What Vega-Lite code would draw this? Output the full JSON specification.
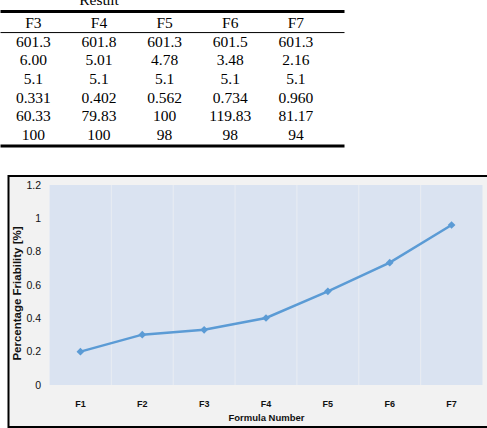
{
  "$schema": "https://vega.github.io/schema/vega-lite/v6.json",
  "padding": {"top": -8, "left": -1.5, "right": 0, "bottom": 0},
  "background": "white",
  "spacing": 27,
  "datasets": {
    "formulas": [
      {"formula": "F1", "n": 1, "friability": 0.2},
      {"formula": "F2", "n": 2, "friability": 0.302},
      {"formula": "F3", "n": 3, "friability": 0.331},
      {"formula": "F4", "n": 4, "friability": 0.402},
      {"formula": "F5", "n": 5, "friability": 0.562},
      {"formula": "F6", "n": 6, "friability": 0.734},
      {"formula": "F7", "n": 7, "friability": 0.96}
    ],
    "properties": [
      {"formula": "F3", "n": 3, "property": "weight", "value": "601.3"},
      {"formula": "F4", "n": 4, "property": "weight", "value": "601.8"},
      {"formula": "F5", "n": 5, "property": "weight", "value": "601.3"},
      {"formula": "F6", "n": 6, "property": "weight", "value": "601.5"},
      {"formula": "F7", "n": 7, "property": "weight", "value": "601.3"},
      {"formula": "F3", "n": 3, "property": "hardness", "value": "6.00"},
      {"formula": "F4", "n": 4, "property": "hardness", "value": "5.01"},
      {"formula": "F5", "n": 5, "property": "hardness", "value": "4.78"},
      {"formula": "F6", "n": 6, "property": "hardness", "value": "3.48"},
      {"formula": "F7", "n": 7, "property": "hardness", "value": "2.16"},
      {"formula": "F3", "n": 3, "property": "thickness", "value": "5.1"},
      {"formula": "F4", "n": 4, "property": "thickness", "value": "5.1"},
      {"formula": "F5", "n": 5, "property": "thickness", "value": "5.1"},
      {"formula": "F6", "n": 6, "property": "thickness", "value": "5.1"},
      {"formula": "F7", "n": 7, "property": "thickness", "value": "5.1"},
      {"formula": "F3", "n": 3, "property": "disintegration", "value": "60.33"},
      {"formula": "F4", "n": 4, "property": "disintegration", "value": "79.83"},
      {"formula": "F5", "n": 5, "property": "disintegration", "value": "100"},
      {"formula": "F6", "n": 6, "property": "disintegration", "value": "119.83"},
      {"formula": "F7", "n": 7, "property": "disintegration", "value": "81.17"},
      {"formula": "F3", "n": 3, "property": "content", "value": "100"},
      {"formula": "F4", "n": 4, "property": "content", "value": "100"},
      {"formula": "F5", "n": 5, "property": "content", "value": "98"},
      {"formula": "F6", "n": 6, "property": "content", "value": "98"},
      {"formula": "F7", "n": 7, "property": "content", "value": "94"}
    ]
  },
  "vconcat": [
    {
      "width": 336,
      "height": 147,
      "view": {"stroke": null},
      "layer": [
        {
          "data": {"name": "properties"},
          "mark": {"type": "text", "font": "Liberation Serif", "fontSize": 15.5, "color": "#000000", "baseline": "middle"},
          "encoding": {
            "x": {"field": "n", "type": "quantitative", "scale": {"domain": [2.5, 7.74], "range": [-8, 336], "nice": false, "zero": false}, "axis": null},
            "y": {"field": "property", "type": "ordinal", "scale": {"type": "band", "domain": ["formula", "weight", "hardness", "thickness", "friability", "disintegration", "content"], "range": [13, 143], "paddingInner": 0, "paddingOuter": 0}, "axis": null},
            "text": {"field": "value", "type": "nominal"}
          }
        },
        {
          "data": {"name": "formulas"},
          "transform": [{"filter": "datum.n >= 3"}],
          "mark": {"type": "text", "font": "Liberation Serif", "fontSize": 15.5, "color": "#000000", "baseline": "middle"},
          "encoding": {
            "x": {"field": "n", "type": "quantitative", "axis": null},
            "y": {"datum": "formula", "type": "ordinal", "axis": null},
            "text": {"field": "formula", "type": "nominal"}
          }
        },
        {
          "data": {"name": "formulas"},
          "transform": [{"filter": "datum.n >= 3"}],
          "mark": {"type": "text", "font": "Liberation Serif", "fontSize": 15.5, "color": "#000000", "baseline": "middle"},
          "encoding": {
            "x": {"field": "n", "type": "quantitative", "axis": null},
            "y": {"datum": "friability", "type": "ordinal", "axis": null},
            "text": {"field": "friability", "type": "quantitative", "format": ".3f"}
          }
        },
        {
          "data": {"values": [{}]},
          "mark": {"type": "text", "font": "Liberation Serif", "fontSize": 15.5, "color": "#000000", "baseline": "alphabetic", "yOffset": -18.5},
          "encoding": {
            "x": {"datum": 4, "type": "quantitative", "axis": null},
            "y": {"datum": "formula", "type": "ordinal", "axis": null},
            "text": {"value": "Result"}
          }
        },
        {
          "data": {"values": [{}]},
          "mark": {"type": "rule", "color": "#000000", "strokeWidth": 3, "yOffset": -2.5},
          "encoding": {
            "x": {"datum": 2.5, "type": "quantitative", "axis": null},
            "x2": {"datum": 7.74},
            "y": {"datum": "formula", "type": "ordinal", "bandPosition": 0, "axis": null}
          }
        },
        {
          "data": {"values": [{}]},
          "mark": {"type": "rule", "color": "#000000", "strokeWidth": 1},
          "encoding": {
            "x": {"datum": 2.5, "type": "quantitative", "axis": null},
            "x2": {"datum": 7.74},
            "y": {"datum": "weight", "type": "ordinal", "bandPosition": 0, "axis": null}
          }
        },
        {
          "data": {"values": [{}]},
          "mark": {"type": "rule", "color": "#000000", "strokeWidth": 3, "yOffset": 2},
          "encoding": {
            "x": {"datum": 2.5, "type": "quantitative", "axis": null},
            "x2": {"datum": 7.74},
            "y": {"datum": "content", "type": "ordinal", "bandPosition": 1, "axis": null}
          }
        }
      ]
    },
    {
      "width": 490,
      "height": 251,
      "view": {"fill": "#f2f2f2", "stroke": "#000000", "strokeWidth": 2},
      "data": {"name": "formulas"},
      "layer": [
        {
          "mark": {"type": "rect", "fill": "#dae3f1"},
          "encoding": {
            "x": {
              "field": "formula",
              "type": "ordinal",
              "scale": {"type": "band", "range": [41, 474], "paddingInner": 0, "paddingOuter": 0},
              "axis": {
                "offset": -42,
                "domain": false,
                "ticks": false,
                "grid": false,
                "labelAngle": 0,
                "labelPadding": 14,
                "labelFont": "Liberation Sans",
                "labelFontSize": 9,
                "labelFontWeight": "bold",
                "labelColor": "#111111",
                "title": "Formula Number",
                "titleFont": "Liberation Sans",
                "titleFontSize": 9.5,
                "titleFontWeight": "bold",
                "titleColor": "#111111",
                "titlePadding": 4
              }
            },
            "y": {
              "datum": 0,
              "type": "quantitative",
              "scale": {"domain": [0, 1.2], "range": [209, 9], "nice": false, "zero": false},
              "axis": {
                "values": [0, 0.2, 0.4, 0.6, 0.8, 1, 1.2],
                "format": "~g",
                "offset": -41,
                "domain": false,
                "ticks": false,
                "grid": false,
                "labelPadding": 9,
                "labelFont": "Liberation Sans",
                "labelFontSize": 10.5,
                "labelColor": "#111111",
                "title": "Percentage Friability [%]",
                "titleFont": "Liberation Sans",
                "titleFontSize": 11.5,
                "titleFontWeight": "bold",
                "titleColor": "#111111",
                "titlePadding": 3,
                "titleY": 117
              }
            },
            "y2": {"datum": 1.2}
          }
        },
        {
          "mark": {"type": "rule", "color": "#e8ecf3", "strokeWidth": 1},
          "encoding": {
            "x": {"field": "formula", "type": "ordinal", "bandPosition": 0},
            "y": {"datum": 0, "type": "quantitative"},
            "y2": {"datum": 1.2}
          }
        },
        {
          "mark": {"type": "line", "color": "#5b9bd5", "strokeWidth": 2.5},
          "encoding": {
            "x": {"field": "formula", "type": "ordinal"},
            "y": {"field": "friability", "type": "quantitative"}
          }
        },
        {
          "mark": {"type": "point", "shape": "diamond", "filled": true, "size": 60, "color": "#5b9bd5", "opacity": 1},
          "encoding": {
            "x": {"field": "formula", "type": "ordinal"},
            "y": {"field": "friability", "type": "quantitative"}
          }
        }
      ]
    }
  ]
}
